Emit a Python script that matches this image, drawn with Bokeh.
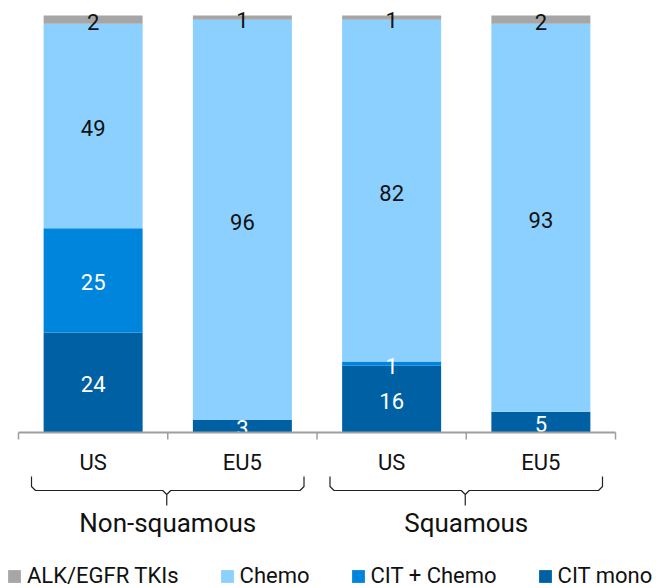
from bokeh.plotting import figure
from bokeh.models import Range1d, ColumnDataSource, Legend, LegendItem
from bokeh.core.properties import value
from bokeh.embed import file_html
from bokeh.resources import INLINE

# ---- data ----
categories = ["US", "EU5", "US", "EU5"]
groups = ["Non-squamous", "Squamous"]
series = ["CIT mono", "CIT + Chemo", "Chemo", "ALK/EGFR TKIs"]
cit_mono = [24, 3, 16, 5]
cit_chemo = [25, 0, 1, 0]
chemo = [49, 96, 82, 93]
alk = [2, 1, 1, 2]

colors = ["#0060A4", "#0085DC", "#8BD0FF", "#A6A6A6"]
label_colors = ["white", "white", "#111111", "#111111"]
FONT = value("Roboto")

W, H = 656, 588
X0PX, X4PX = 18, 615
Y0PX, Y100PX = 432, 15
sx = (X4PX - X0PX) / 4.0
sy = (Y0PX - Y100PX) / 100.0


def px2x(px):
    return (px - X0PX) / sx


def px2y(py):
    return (Y0PX - py) / sy


p = figure(width=W, height=H, output_backend="svg", toolbar_location=None,
           x_range=Range1d(px2x(0), px2x(W)), y_range=Range1d(px2y(H), px2y(0)),
           x_axis_type=None, y_axis_type=None, min_border=0,
           outline_line_color=None, background_fill_color="white")
p.grid.visible = False

xs = [i + 0.5 for i in range(len(categories))]
src = ColumnDataSource(dict(x=xs, **{"s0": cit_mono, "s1": cit_chemo, "s2": chemo, "s3": alk}))
bar_w = 99 / sx
rends = p.vbar_stack(["s0", "s1", "s2", "s3"], x="x", width=bar_w, source=src,
                     color=colors, line_color=None)

# value labels
lx, ly, lt, lc = [], [], [], []
vals = [cit_mono, cit_chemo, chemo, alk]
for i, x in enumerate(xs):
    base = 0
    for k, arr in enumerate(vals):
        v = arr[i]
        if v > 0:
            lx.append(x)
            ly.append(base + v / 2)
            lt.append(str(v))
            lc.append(label_colors[k])
        base += v
p.text(x=lx, y=ly, text=lt, text_color=lc, text_align="center", text_baseline="middle",
       text_font=FONT, text_font_size="22px", y_offset=2)

# axis line and ticks
p.segment(x0=[0], y0=[0], x1=[len(categories)], y1=[0], line_color="#9E9E9E", line_width=2)
tx = list(range(len(categories) + 1))
p.segment(x0=tx, y0=[0] * len(tx), x1=tx, y1=[px2y(Y0PX + 7)] * len(tx),
          line_color="#9E9E9E", line_width=1.5)

# category labels
p.text(x=xs, y=[px2y(462)] * len(xs), text=categories, text_align="center",
       text_baseline="middle", text_font=FONT, text_font_size="22px", text_color="#111111")

# braces and group labels
for g, name in enumerate(groups):
    a, b = 2 * g, 2 * g + 2
    x0 = a + 13 / sx
    x1 = b - 13 / sx
    xc = (a + b) / 2 - 1 / sx
    r = 4 / sx
    bx = [x0, x0, x0 + r, xc - r, xc, xc, xc, xc + r, x1 - r, x1, x1]
    by_px = [476, 486, 490, 490, 494, 505, 494, 490, 490, 486, 476]
    p.line(x=bx, y=[px2y(v) for v in by_px], line_color="#222222", line_width=1.2)
    p.text(x=[(a + b) / 2], y=[px2y(522)], text=[name], text_align="center",
           text_baseline="middle", text_font=FONT, text_font_size="26px", text_color="#111111")

# legend
items = [LegendItem(label=series[k], renderers=[rends[k]]) for k in [3, 2, 1, 0]]
legend = Legend(items=items, orientation="horizontal", location=(6, 0),
                glyph_width=16, glyph_height=16, label_standoff=5, spacing=40,
                padding=0, margin=0, border_line_color=None, background_fill_alpha=0,
                label_text_font="Roboto", label_text_font_size="22px", label_text_color="#111111")
p.add_layout(legend, "center")

open("out.html", "w").write(file_html(p, INLINE))
